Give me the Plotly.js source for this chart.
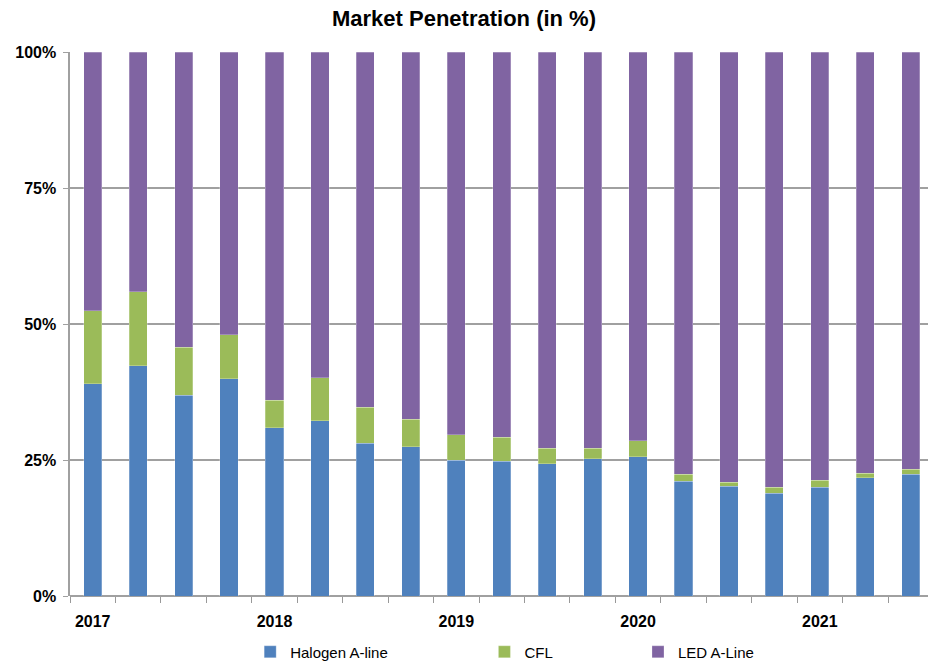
<!DOCTYPE html>
<html><head><meta charset="utf-8">
<script src="https://cdn.plot.ly/plotly-3.0.1.min.js"></script>
<style>html,body{margin:0;padding:0;background:#fff}#chart{width:928px;height:664px}</style>
</head><body><div id="chart"></div>
<script>
const periods = ["2017 Q1","2017 Q2","2017 Q3","2017 Q4","2018 Q1","2018 Q2","2018 Q3","2018 Q4","2019 Q1","2019 Q2","2019 Q3","2019 Q4","2020 Q1","2020 Q2","2020 Q3","2020 Q4","2021 Q1","2021 Q2","2021 Q3"];
const halogen = [39.0,42.3,36.9,39.9,30.9,32.2,28.1,27.4,25.0,24.8,24.3,25.2,25.6,21.1,20.2,18.9,20.0,21.7,22.4];
const cfl     = [13.4,13.6,8.8,8.1,5.1,7.9,6.6,5.1,4.6,4.4,2.9,2.0,2.9,1.3,0.7,1.1,1.3,0.9,0.9];
const led = halogen.map((h,i)=>+(100-h-cfl[i]).toFixed(1));
const yearLabels = ["2017","2018","2019","2020","2021"];
const yearIdx = [0,4,8,12,16];
const yTicks = [0,25,50,75,100];
const yTickText = ["0%","25%","50%","75%","100%"];

const xs = periods.map((_,i)=>i);
const font = "Liberation Sans Narrow, Liberation Sans, Arial, sans-serif";
const lineStyle = {color:"rgba(255,255,255,0.5)", width:0.5};
const traces = [
  {type:"bar", name:"Halogen A-line", x:xs, y:halogen, marker:{color:"#4F81BD", line:lineStyle}, legend:"legend", hovertext:periods},
  {type:"bar", name:"CFL", x:xs, y:cfl, marker:{color:"#9BBB59", line:lineStyle}, legend:"legend2", hovertext:periods},
  {type:"bar", name:"LED A-Line", x:xs, y:led, marker:{color:"#8064A2", line:lineStyle}, legend:"legend3", hovertext:periods}
];
const legBase = {orientation:"h", yref:"container", yanchor:"middle", y:0.018, xanchor:"left", font:{family:font, size:15, color:"#000"}, bgcolor:"rgba(0,0,0,0)", itemwidth:30, tracegroupgap:0};
const layout = {
  width:928, height:664,
  margin:{l:70, r:0, t:52, b:68, autoexpand:false},
  paper_bgcolor:"#fff", plot_bgcolor:"#fff",
  barmode:"stack", bargap:0.6,
  title:{text:"<b>Market Penetration (in %)</b>", font:{family:font, size:22, color:"#000"}, x:0.5, xanchor:"center", y:0.972, yanchor:"middle"},
  xaxis:{range:[-0.5,18.38], tickmode:"array", tickvals:yearIdx, ticktext:yearLabels.map(t=>"<b>"+t+"</b>"),
    ticks:"", showgrid:false, zeroline:false, showline:false, automargin:false,
    tickfont:{family:font, size:16, color:"#000"}, ticklabelstandoff:14,
    minor:{tickmode:"array", tickvals:periods.map((_,i)=>i-0.5), ticks:"outside", ticklen:6, tickcolor:"#999", showgrid:false}},
  yaxis:{range:[0,100], tickmode:"array", tickvals:yTicks, ticktext:yTickText.map(t=>"<b>"+t+"</b>"),
    showgrid:true, gridcolor:"#A0A0A0", gridwidth:1.6, zeroline:true, zerolinecolor:"#A0A0A0", zerolinewidth:1.6,
    showline:true, linecolor:"#A0A0A0", linewidth:1.6, ticks:"outside", ticklen:5, tickcolor:"#A0A0A0", automargin:false,
    ticklabelstandoff:4, tickfont:{family:font, size:16, color:"#000"}},
  legend:Object.assign({}, legBase, {x:0.21}),
  legend2:Object.assign({}, legBase, {x:0.483}),
  legend3:Object.assign({}, legBase, {x:0.662}),
  showlegend:true
};
Plotly.newPlot("chart", traces, layout, {displayModeBar:false, staticPlot:true});
</script></body></html>
